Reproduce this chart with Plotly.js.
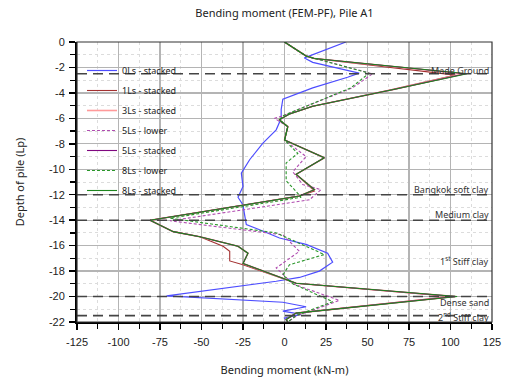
<!DOCTYPE html>
<html>
<head>
<meta charset="utf-8">
<script src="https://cdn.plot.ly/plotly-3.0.1.min.js"></script>
<style>html,body{margin:0;padding:0;background:#fff;}#chart{width:508px;height:381px;}</style>
</head>
<body>
<div id="chart"></div>
<script>
// Series data (moment in kN-m, depth in Lp)
const ls0_m = [37, 12, 17, 45, 38, 17, -1, -2, -2, -5, -13, -21, -26, -25, -28, -25, -24, -23, -15, -3, 13, 26, 29, 21, 9, -5, -71, -1, 13, -1, 10, 0, 2];
const ls0_d = [0, -1.25, -1.6, -2.45, -2.77, -3.6, -4.5, -5.3, -6, -6.9, -7.95, -9.25, -10.3, -11.35, -12.2, -12.8, -13.6, -14.35, -14.75, -15.4, -15.9, -16.6, -17.3, -18, -18.5, -18.8, -19.95, -20.45, -20.8, -21.15, -21.4, -21.7, -22];

const ls1_m = [0, 13, 18, 103, 64, 17, 3, -3, -2, 2, 0, 24, 7, 18, 9, -81, -67, -51, -37, -33, -33, -25, 7, 100, 7, 1, 2];
const ls1_d = [0, -1.1, -1.3, -2.6, -3.75, -5.05, -5.65, -6.1, -6.25, -6.65, -7.7, -9.1, -10.4, -11.7, -12.1, -14, -14.9, -15.3, -16.05, -16.45, -17.2, -17.5, -18.95, -20, -21.3, -21.8, -22];

const ls3_m = [0, 13, 18, 108, 65, 17, 3, -3, -2, 2, 0, 24, 7, 18, 9, -81, -67, -51, -28, -22, -25, 7, 103, 7, 1, 2];
const ls3_d = [0, -1.1, -1.3, -2.5, -3.75, -5.05, -5.65, -6.1, -6.25, -6.65, -7.7, -9.1, -10.4, -11.6, -12.1, -14, -14.9, -15.3, -16.05, -16.6, -17.4, -18.95, -20, -21.3, -21.8, -22];

const ls5low_m = [0, 13, 53, 41, 13, -1, -6, 2, 0, 13, 5, 11, 22, 15, -69, -1, 9, -5, 5, 33, 7, 2];
const ls5low_d = [0, -1.1, -2.5, -3.6, -5.05, -5.8, -6.0, -6.65, -7.7, -9, -10.2, -11.2, -11.6, -12.4, -14.05, -15.15, -16.45, -17.75, -19.0, -20.3, -21.55, -22];

const ls5_m = [0, 13, 18, 109, 65, 17, 3, -3, -2, 2, 0, 24, 7, 18, 9, -81, -67, -51, -28, -22, -25, 7, 103, 7, 1, 2];
const ls5_d = [0, -1.1, -1.3, -2.5, -3.75, -5.05, -5.65, -6.1, -6.25, -6.65, -7.7, -9.1, -10.4, -11.6, -12.1, -14, -14.9, -15.3, -16.05, -16.6, -17.4, -18.95, -20, -21.3, -21.8, -22];

const ls8low_m = [0, 13, 51, 40, 13, -1, -3, 2, 0, 8, 1, 1, 7, 10, -69, -5, 24, 3, -1, 5, 29, 7, 2];
const ls8low_d = [0, -1.1, -2.45, -3.6, -5.05, -5.8, -6.1, -6.65, -7.7, -8.75, -9.5, -10.9, -11.75, -12.2, -13.85, -15, -16.7, -17.5, -18.3, -19.0, -20.4, -21.5, -22];

const ls8_m = [0, 13, 18, 110, 65, 17, 3, -3, -2, 2, 0, 24, 7, 18, 9, -81, -67, -51, -28, -22, -25, 7, 104, 7, 1, 2];
const ls8_d = [0, -1.1, -1.3, -2.5, -3.75, -5.05, -5.65, -6.1, -6.25, -6.65, -7.7, -9.1, -10.4, -11.6, -12.1, -14, -14.9, -15.3, -16.05, -16.6, -17.4, -18.95, -20, -21.3, -21.8, -22];

const seriesNames = ['0Ls - stacked', '1Ls - stacked', '3Ls - stacked', '5Ls - lower', '5Ls - stacked', '8Ls - lower', '8Ls - stacked'];

// Soil layer boundaries and labels
const layerDepths = [-2.5, -12, -14, -20, -21.5];
const layerLabels = ['Made Ground', 'Bangkok soft clay', 'Medium clay', '1<sup>st</sup> Stiff clay', 'Dense sand', '2<sup>nd</sup> Stiff clay'];
const layerLabelDepths = [-2.2, -11.55, -13.57, -17.2, -20.5, -21.58];

const xTicks = [-125, -100, -75, -50, -25, 0, 25, 50, 75, 100, 125];
const yTicks = [0, -2, -4, -6, -8, -10, -12, -14, -16, -18, -20, -22];

const styles = [
  {color: '#4d4dff', width: 1.2, dash: 'solid'},
  {color: '#a33030', width: 1.1, dash: 'solid'},
  {color: '#ff9a9a', width: 1.6, dash: 'solid'},
  {color: '#b04cb0', width: 1.1, dash: '3px,2px'},
  {color: '#800880', width: 1.1, dash: 'solid'},
  {color: '#2a962a', width: 1.1, dash: '3px,2px'},
  {color: '#1e861e', width: 1.1, dash: 'solid'}
];
const xs = [ls0_m, ls1_m, ls3_m, ls5low_m, ls5_m, ls8low_m, ls8_m];
const ys = [ls0_d, ls1_d, ls3_d, ls5low_d, ls5_d, ls8low_d, ls8_d];

const traces = xs.map((x, i) => ({
  type: 'scatter', mode: 'lines', x: x, y: ys[i], name: seriesNames[i],
  legendgroup: 'g' + i,
  line: {color: styles[i].color, width: styles[i].width, dash: styles[i].dash}
}));

const shapes = layerDepths.map(d => ({
  type: 'line', xref: 'paper', yref: 'y', x0: 0, x1: 1, y0: d, y1: d,
  line: {color: '#444', width: 1.6, dash: '10px,6px'}, layer: 'above'
}));
shapes.push({type: 'rect', xref: 'paper', yref: 'paper', x0: 0, x1: 1, y0: 0, y1: 1,
  line: {color: '#333', width: 1.2}, layer: 'above'});

const annotations = layerLabels.map((t, i) => ({
  text: t, xref: 'paper', yref: 'y', x: 1, y: layerLabelDepths[i],
  xanchor: 'right', yanchor: 'middle', xshift: -1, showarrow: false,
  font: {family: 'Noto Sans, sans-serif', size: 9, color: '#333'}
}));

const layout = {
  width: 508, height: 381,
  margin: {l: 77, r: 16, t: 42, b: 59},
  paper_bgcolor: '#fff', plot_bgcolor: '#fff',
  title: {text: 'Bending moment (FEM-PF), Pile A1', x: 0.56, xanchor: 'center', y: 0.965, yanchor: 'middle',
    font: {family: 'Noto Sans, sans-serif', size: 11, color: '#222'}},
  showlegend: true,
  legend: {x: 0.012, y: 0.95, xanchor: 'left', yanchor: 'top', bgcolor: 'rgba(0,0,0,0)',
    font: {family: 'Noto Sans, sans-serif', size: 9, color: '#222'}, tracegroupgap: 1, itemwidth: 30},
  xaxis: {
    range: [-125, 125], tickvals: xTicks, ticktext: xTicks.map(String),
    showline: true, linecolor: '#000', linewidth: 2,
    ticks: 'outside', ticklen: 6, tickwidth: 1.5, tickcolor: '#000', ticklabelstandoff: 3,
    showgrid: true, gridcolor: '#b4b4b4', gridwidth: 1.3, zeroline: false,
    tickfont: {family: 'Liberation Sans, Arial, sans-serif', size: 11, color: '#222'},
    minor: {dtick: 12.5, tick0: 0, ticks: 'outside', ticklen: 5, tickwidth: 1.2, tickcolor: '#000', showgrid: true, gridcolor: '#dcdcdc', griddash: 'dot', gridwidth: 1},
    title: {text: 'Bending moment (kN-m)', standoff: 19, font: {family: 'Noto Sans, sans-serif', size: 11, color: '#222'}}
  },
  yaxis: {
    range: [-22, 0], tickvals: yTicks, ticktext: yTicks.map(String),
    showline: true, linecolor: '#000', linewidth: 2,
    ticks: 'outside', ticklen: 6, tickwidth: 1.5, tickcolor: '#000', ticklabelstandoff: 2,
    showgrid: true, gridcolor: '#b4b4b4', gridwidth: 1.3, zeroline: false,
    tickfont: {family: 'Liberation Sans, Arial, sans-serif', size: 11, color: '#222'},
    minor: {dtick: 1, tick0: 0, ticks: 'outside', ticklen: 5, tickwidth: 1.2, tickcolor: '#000', showgrid: true, gridcolor: '#dcdcdc', griddash: 'dot', gridwidth: 1},
    title: {text: 'Depth of pile (Lp)', standoff: 22, font: {family: 'Noto Sans, sans-serif', size: 11, color: '#222'}}
  },
  shapes: shapes,
  annotations: annotations
};

Plotly.newPlot('chart', traces, layout, {displayModeBar: false, staticPlot: true});
</script>
</body>
</html>
